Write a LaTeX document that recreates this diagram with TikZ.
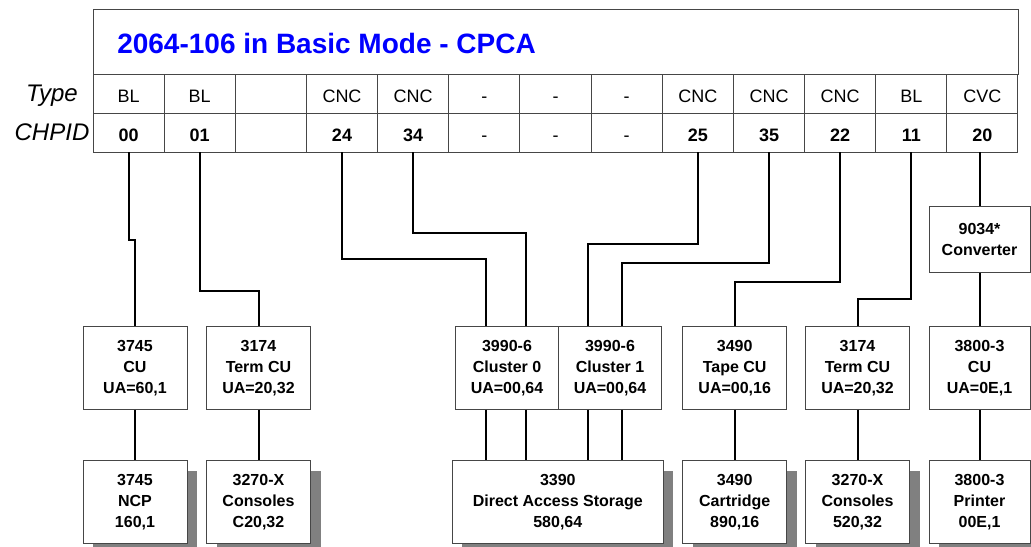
\documentclass[tikz,border=0pt]{standalone}
\usepackage{fontspec}
\setmainfont{Liberation Sans}
\usepackage{tikz}
\usetikzlibrary{shadows}
\definecolor{titleblue}{RGB}{0, 0, 255}
\definecolor{framegray}{RGB}{70, 70, 70}
\definecolor{shadegray}{RGB}{128, 128, 128}

\begin{document}
\begin{tikzpicture}[x=0.75pt, y=-0.75pt,
    cell/.style={draw=framegray, line width=0.75pt, minimum width=53.36pt, minimum height=29.25pt, inner sep=0pt, outer sep=0pt,
                 text height=16.2pt, text depth=2.7pt, font=\fontsize{13.5}{16}\selectfont},
    chpid/.style={cell, font=\fontsize{13.5}{16}\selectfont\bfseries},
    rowlabel/.style={inner sep=0pt, text depth=0pt, font=\fontsize{18}{20}\selectfont\itshape},
    unit/.style={draw=framegray, line width=0.75pt, fill=white, minimum width=78pt, minimum height=62pt, inner sep=0pt,
                 align=center, font=\fontsize{12}{15.5}\selectfont\bfseries},
    device/.style={unit, drop shadow={shadow xshift=7.5pt, shadow yshift=-7.5pt, fill=shadegray, opacity=1}},
    wire/.style={line width=1.5pt}]
  \useasboundingbox (0,0) rectangle (1031,546);
  % Header
  \node[draw=framegray, line width=0.75pt, minimum width=693.75pt, minimum height=48.75pt, inner sep=0pt] (head) at (555.5,41.5) {};
  \node[anchor=west, inner sep=0pt, text=titleblue, font=\fontsize{21}{25}\selectfont\bfseries] (title) at (117,43) {2064-106 in Basic Mode - CPCA};
  \node[rowlabel] (typelbl) at (52,93.5) {Type};
  \node[rowlabel] (chpidlbl) at (52,132.5) {CHPID};
  % Type row
  \node[cell] (typ0)  at (128.6,93.5) {BL};  \node[cell] (typ1)  at (199.7,93.5) {BL};
  \node[cell] (typ2)  at (270.9,93.5) {};    \node[cell] (typ3)  at (342.0,93.5) {CNC};
  \node[cell] (typ4)  at (413.2,93.5) {CNC}; \node[cell] (typ5)  at (484.3,93.5) {-};
  \node[cell] (typ6)  at (555.5,93.5) {-};   \node[cell] (typ7)  at (626.7,93.5) {-};
  \node[cell] (typ8)  at (697.8,93.5) {CNC}; \node[cell] (typ9)  at (769.0,93.5) {CNC};
  \node[cell] (typ10) at (840.1,93.5) {CNC}; \node[cell] (typ11) at (911.3,93.5) {BL};
  \node[cell] (typ12) at (982.4,93.5) {CVC};
  % CHPID row
  \node[chpid] (chp0)  at (128.6,132.5) {00}; \node[chpid] (chp1)  at (199.7,132.5) {01};
  \node[chpid] (chp2)  at (270.9,132.5) {};   \node[chpid] (chp3)  at (342.0,132.5) {24};
  \node[chpid] (chp4)  at (413.2,132.5) {34}; \node[cell]  (chp5)  at (484.3,132.5) {-};
  \node[cell]  (chp6)  at (555.5,132.5) {-};  \node[cell]  (chp7)  at (626.7,132.5) {-};
  \node[chpid] (chp8)  at (697.8,132.5) {25}; \node[chpid] (chp9)  at (769.0,132.5) {35};
  \node[chpid] (chp10) at (840.1,132.5) {22}; \node[chpid] (chp11) at (911.3,132.5) {11};
  \node[chpid] (chp12) at (982.4,132.5) {20};
  % Control units
  \node[unit] (cu3745) at (135,368)   {3745\\CU\\UA=60,1};
  \node[unit] (tcu1)   at (258.5,368) {3174\\Term CU\\UA=20,32};
  \node[unit, minimum width=77.25pt] (clu0) at (507,368) {3990-6\\Cluster 0\\UA=00,64};
  \node[unit, minimum width=77.25pt] (clu1) at (610,368) {3990-6\\Cluster 1\\UA=00,64};
  \node[unit] (tape)   at (734.7,368) {3490\\Tape CU\\UA=00,16};
  \node[unit] (tcu2)   at (857.5,368) {3174\\Term CU\\UA=20,32};
  \node[unit, minimum width=75.75pt] (cu3800) at (979.5,368) {3800-3\\CU\\UA=0E,1};
  \node[unit, minimum width=75.75pt, minimum height=49.2pt] (conv) at (979.5,239.5) {9034*\\Converter};
  % Devices
  \node[device] (ncp)  at (135,502)   {3745\\NCP\\160,1};
  \node[device] (con1) at (258.5,502) {3270-X\\Consoles\\C20,32};
  \node[device, minimum width=158.25pt] (das) at (557.8,502) {3390\\Direct Access Storage\\580,64};
  \node[device] (cart) at (734.7,502) {3490\\Cartridge\\890,16};
  \node[device] (con2) at (857.5,502) {3270-X\\Consoles\\520,32};
  \node[device, minimum width=75.75pt] (prt) at (979.5,502) {3800-3\\Printer\\00E,1};
  % Cluster ports
  \coordinate (p0a) at (486,0); \coordinate (p0b) at (526,0);
  \coordinate (p1a) at (588,0); \coordinate (p1b) at (622,0);
  % Channel paths
  \draw[wire] (chp0.south) -- ++(0,88) -| (cu3745.north);
  \draw[wire] (chp1.south) -- ++(0,139) -| (tcu1.north);
  \draw[wire] (chp3.south) -- ++(0,107) -| (clu0.north -| p0a);
  \draw[wire] (chp4.south) -- ++(0,81) -| (clu0.north -| p0b);
  \draw[wire] (chp8.south) -- ++(0,92) -| (clu1.north -| p1a);
  \draw[wire] (chp9.south) -- ++(0,111) -| (clu1.north -| p1b);
  \draw[wire] (chp10.south) -- ++(0,130) -| (tape.north);
  \draw[wire] (chp11.south) -- ++(0,147) -| (tcu2.north);
  \draw[wire] (chp12.south -| conv.north) -- (conv.north);
  \draw[wire] (conv.south) -- (cu3800.north);
  % Control unit to device
  \draw[wire] (cu3745.south) -- (ncp.north);
  \draw[wire] (tcu1.south) -- (con1.north);
  \draw[wire] (clu0.south -| p0a) -- (das.north -| p0a);
  \draw[wire] (clu0.south -| p0b) -- (das.north -| p0b);
  \draw[wire] (clu1.south -| p1a) -- (das.north -| p1a);
  \draw[wire] (clu1.south -| p1b) -- (das.north -| p1b);
  \draw[wire] (tape.south) -- (cart.north);
  \draw[wire] (tcu2.south) -- (con2.north);
  \draw[wire] (cu3800.south) -- (prt.north);
\end{tikzpicture}
\end{document}
